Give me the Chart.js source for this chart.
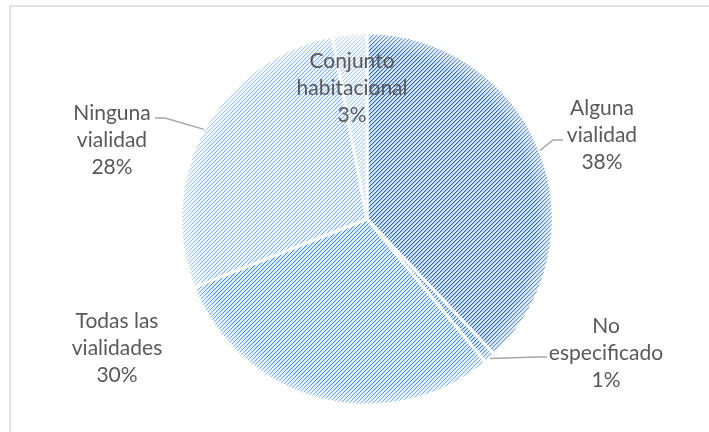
<!DOCTYPE html>
<html>
<head>
<meta charset="utf-8">
<script src="https://cdn.jsdelivr.net/npm/chart.js@4"></script>
<style>
html, body { margin: 0; background: #fff; }
#contenedor { position: relative; width: 709px; height: 432px; }
</style>
</head>
<body>
<div id="contenedor"><canvas id="grafica"></canvas></div>
<script>
const categorias = [['Alguna', 'vialidad'], ['No', 'especificado'], ['Todas las', 'vialidades'], ['Ninguna', 'vialidad'], ['Conjunto', 'habitacional']];
const porcentajes = [38, 1, 30, 28, 3];

const colorLinea = ['#2a66ab', '#3479c8', '#3f8ce4', '#7db2ee', '#a8cbf2'];
const colorFondo = ['#d6e6f7', '#dbeaf9', '#e2eefb', '#edf4fd', '#f2f7fd'];
const grosorLinea = [0.3, 0.2, 0.12, 0.08, 0.05];
// posicion de etiquetas y fin de guias, relativo al centro del pastel
const posEtiqueta = [[235, -84], [239, 134], [-250, 129], [-255, -79], [-15, -131]];
const finGuia = [[196, -79], [180, 138], null, [-212, -101], null];

const canvas = document.getElementById('grafica');
const ctxBase = canvas.getContext('2d');

function trama(linea, fondo, grosor) {
    const c = document.createElement('canvas');
    c.width = 4; c.height = 4;
    const g = c.getContext('2d');
    g.fillStyle = fondo;
    g.fillRect(0, 0, 4, 4);
    g.fillStyle = linea;
    for (let y = 0; y < 4; y++) g.fillRect(3 - y, y, 1, 1);
    g.globalAlpha = grosor;
    for (let y = 0; y < 4; y++) g.fillRect((4 - y) % 4, y, 1, 1);
    return ctxBase.createPattern(c, 'repeat');
}

const marco = {
    id: 'marco',
    beforeDraw(chart) {
        const ctx = chart.ctx;
        ctx.save();
        ctx.strokeStyle = '#d9d9d9';
        ctx.lineWidth = 1.5;
        ctx.strokeRect(10, 6, 740, 460);
        ctx.restore();
    }
};

const etiquetas = {
    id: 'etiquetas',
    afterDatasetsDraw(chart) {
        const ctx = chart.ctx;
        const arcos = chart.getDatasetMeta(0).data;
        ctx.save();
        // borde suave del pastel
        const a0 = arcos[0];
        const r = a0.outerRadius - 1.5;
        const grad = ctx.createRadialGradient(a0.x, a0.y, r - 16, a0.x, a0.y, r);
        grad.addColorStop(0, 'rgba(255,255,255,0)');
        grad.addColorStop(1, 'rgba(255,255,255,0.4)');
        ctx.fillStyle = grad;
        ctx.beginPath();
        ctx.arc(a0.x, a0.y, r, 0, Math.PI * 2);
        ctx.arc(a0.x, a0.y, r - 16, 0, Math.PI * 2, true);
        ctx.fill();

        ctx.font = '21px Lato';
        ctx.fillStyle = '#595959';
        ctx.textAlign = 'center';
        ctx.textBaseline = 'middle';
        ctx.strokeStyle = '#a6a6a6';
        ctx.lineWidth = 1.5;
        arcos.forEach((arco, i) => {
            const p = arco.getProps(['x', 'y', 'outerRadius', 'startAngle', 'endAngle'], true);
            const medio = (p.startAngle + p.endAngle) / 2;
            if (finGuia[i]) {
                const ex = p.x + finGuia[i][0], ey = p.y + finGuia[i][1];
                const sx = p.x + Math.cos(medio) * p.outerRadius;
                const sy = p.y + Math.sin(medio) * p.outerRadius;
                const codo = ex + (ex > p.x ? -10 : 10);
                ctx.beginPath();
                ctx.moveTo(sx, sy);
                ctx.lineTo(codo, ey);
                ctx.lineTo(ex, ey);
                ctx.stroke();
            }
            const lx = p.x + posEtiqueta[i][0], ly = p.y + posEtiqueta[i][1];
            const lineas = [...categorias[i], porcentajes[i] + '%'];
            lineas.forEach((t, k) => ctx.fillText(t, lx, ly + (k - 1) * 27));
        });
        ctx.restore();
    }
};

new Chart(canvas, {
    type: 'pie',
    data: {
        labels: categorias.map(c => c.join(' ')),
        datasets: [{
            data: porcentajes,
            backgroundColor: colorLinea.map((c, i) => trama(c, colorFondo[i], grosorLinea[i])),
            borderColor: '#ffffff',
            borderWidth: 3
        }]
    },
    options: {
        responsive: true,
        maintainAspectRatio: false,
        animation: false,
        events: [],
        radius: 186,
        layout: { padding: { left: 25, top: 6, right: 0, bottom: 0 } },
        plugins: {
            legend: { display: false },
            tooltip: { enabled: false }
        }
    },
    plugins: [marco, etiquetas]
});
</script>
</body>
</html>
